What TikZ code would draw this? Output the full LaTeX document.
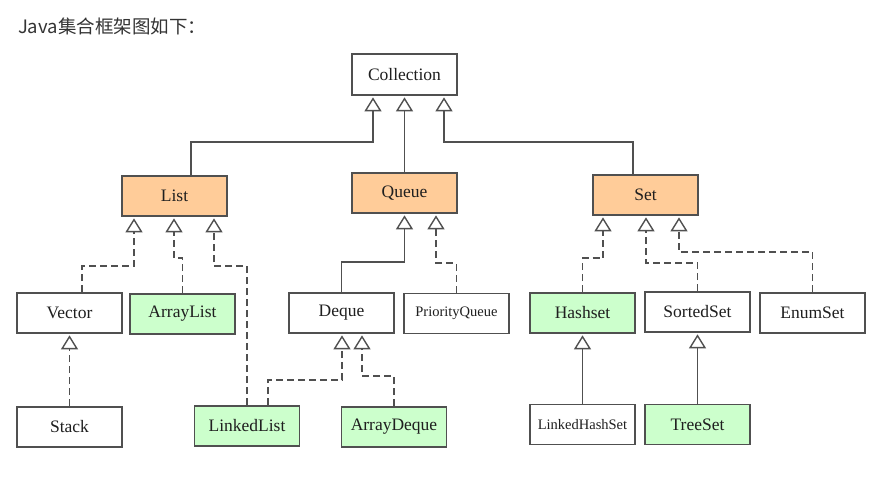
\documentclass[tikz,border=0pt]{standalone}
\usepackage{fontspec}
\setmainfont{Liberation Serif}
\newfontfamily\cjk{Noto Sans CJK SC}
\usetikzlibrary{arrows.meta}
\definecolor{ifacefill}{HTML}{FFCC99}
\definecolor{implfill}{HTML}{CCFFCC}
\definecolor{linegray}{HTML}{505050}
\definecolor{titlegray}{HTML}{333333}

\begin{document}
\begin{tikzpicture}[x=1pt,y=-1pt,line width=1.5pt,draw=linegray,
    box/.style={draw=linegray,line width=1.7pt,fill=white,minimum width=105pt,minimum height=40pt,inner sep=0pt,font=\fontsize{17.5}{20}\selectfont,text=black!88},
    small/.style={font=\fontsize{14.5}{17}\selectfont},
    iface/.style={box,fill=ifacefill},
    impl/.style={box,fill=implfill},
    ext/.style={draw=linegray,-{Triangle[open,length=14pt,width=17pt,line width=1.4pt]},shorten >=1.5pt},
    dep/.style={ext,dash pattern=on 7pt off 4pt}]
    \useasboundingbox (0,0) rectangle (887,484);

    \node[anchor=west,text=titlegray,font=\cjk\fontsize{18.5}{22}\selectfont] (title) at (14,26) {Java集合框架图如下：};

    \node[box,minimum height=41pt] (coll) at (404.5,74.5) {Collection};
    \node[iface] (list) at (174.5,196) {List};
    \node[iface] (queue) at (404.5,193) {Queue};
    \node[iface] (set) at (645.5,195) {Set};

    \node[box] (vec) at (69.5,313) {Vector};
    \node[impl] (alist) at (182.5,314) {ArrayList};
    \node[box] (deque) at (341.5,313) {Deque};
    \node[box,small] (pq) at (456.5,313.5) {PriorityQueue};
    \node[impl] (hset) at (582.5,313) {Hashset};
    \node[box] (sset) at (697.5,312) {SortedSet};
    \node[box] (eset) at (812.5,313) {EnumSet};

    \node[box] (stack) at (69.5,427) {Stack};
    \node[impl] (llist) at (247,426) {LinkedList};
    \node[impl] (adeque) at (394,427) {ArrayDeque};
    \node[box,small] (lhset) at (582.5,424.5) {LinkedHashSet};
    \node[impl] (tset) at (697.5,424.5) {TreeSet};

    % interfaces
    \draw[ext] ([xshift=16.5pt]list.north) -- ++(0,-33) -| ([xshift=-31.5pt]coll.south);
    \draw[ext] (queue.north) -- (coll.south);
    \draw[ext] ([xshift=-12.5pt]set.north) -- ++(0,-32) -| ([xshift=39.5pt]coll.south);

    % list
    \draw[dep] ([xshift=12.5pt]vec.north) -- ++(0,-26) -| ([xshift=-40.5pt]list.south);
    \draw[dep] (alist.north) -- ++(0,-35) -| ([xshift=-0.5pt]list.south);
    \draw[dep] (llist.north) -- ++(0,-139) -| ([xshift=39.5pt]list.south);
    \draw[dep] (stack.north) -- (vec.south);

    % queue
    \draw[ext] (deque.north) -- ++(0,-30) -| (queue.south);
    \draw[dep] (pq.north) -- ++(0,-29.5) -| ([xshift=31.5pt]queue.south);
    \draw[dep] ([xshift=21pt]llist.north) -- ++(0,-25) -| ([xshift=0.5pt]deque.south);
    \draw[dep] (adeque.north) -- ++(0,-30) -| ([xshift=20.5pt]deque.south);

    % set
    \draw[dep] (hset.north) -- ++(0,-34) -| ([xshift=-42.5pt]set.south);
    \draw[dep] (sset.north) -- ++(0,-28) -| ([xshift=0.5pt]set.south);
    \draw[dep] (eset.north) -- ++(0,-40) -| ([xshift=33.5pt]set.south);
    \draw[ext] (lhset.north) -- (hset.south);
    \draw[ext] (tset.north) -- (sset.south);
\end{tikzpicture}
\end{document}
